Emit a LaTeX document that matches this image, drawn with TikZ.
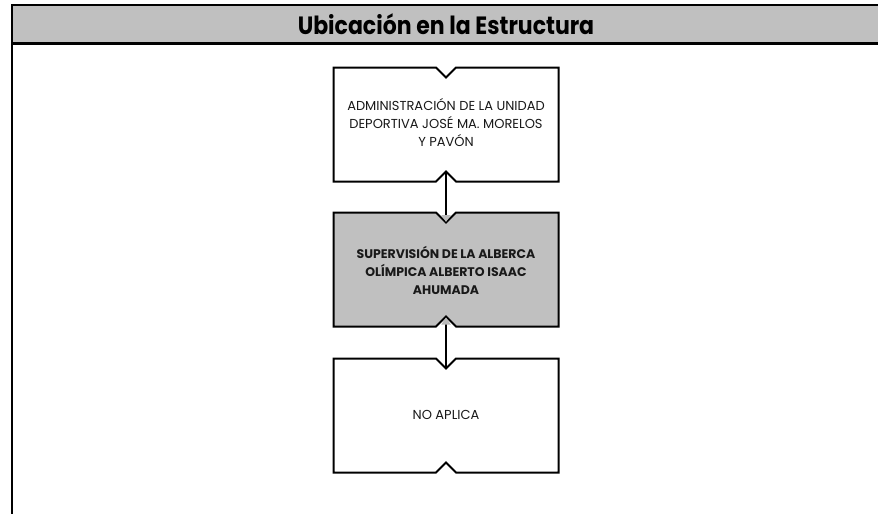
\documentclass[tikz,border=0pt]{standalone}
\usepackage{fontspec}
\setmainfont{Poppins}
\newfontfamily\titlefont[FakeStretch=0.88]{Poppins}
\usetikzlibrary{arrows.meta}
\definecolor{bandgray}{HTML}{C0C0C0}
\definecolor{boxgray}{HTML}{C0C0C0}
\tikzset{
  orgbox/.pic={
    \path[pic actions] (-112.5,-57) -- (-10,-57) -- (0,-47) -- (10,-57) -- (112.5,-57)
      -- (112.5,57) -- (10,57) -- (0,47) -- (-10,57) -- (-112.5,57) -- cycle;
  },
  boxtext/.style={align=center, font=\fontsize{13}{18}\selectfont, text=black!90},
  link/.style={line width=1.8pt, -{Triangle[length=7pt,width=9pt,color=gray!55]}},
}
\begin{document}
\begin{tikzpicture}[x=1pt,y=-1pt]
\useasboundingbox (0,0) rectangle (878,514);
\fill[bandgray] (12,5) rectangle (878,43.5);
\draw[line width=2.5pt] (878,5) -- (12,5) -- (12,514);
\draw[line width=2.5pt] (12,43.5) -- (878,43.5);
\node[font=\titlefont\bfseries\fontsize{25}{27}\selectfont] (title) at (446,24) {Ubicación en la Estructura};

\pic[draw, line width=2pt, fill=white] at (446,124.5) {orgbox};
\pic[draw, line width=2pt, fill=boxgray] at (446,269.5) {orgbox};
\pic[draw, line width=2pt, fill=white] at (446,415.5) {orgbox};

\node[boxtext] (a) at (446,123) {ADMINISTRACIÓN DE LA UNIDAD\\DEPORTIVA JOSÉ MA. MORELOS\\Y PAVÓN};
\node[boxtext, font=\bfseries\fontsize{12.5}{18}\selectfont] (b) at (446,270) {SUPERVISIÓN DE LA ALBERCA\\OLÍMPICA ALBERTO ISAAC\\AHUMADA};
\node[boxtext] (c) at (446,415) {NO APLICA};

\coordinate (abot) at (446,170.5);
\coordinate (btop) at (446,222);
\coordinate (bbot) at (446,317.5);
\coordinate (ctop) at (446,368.5);
\draw[link] (abot) -- (btop);
\draw[link] (ctop) -- (bbot);
\end{tikzpicture}
\end{document}
